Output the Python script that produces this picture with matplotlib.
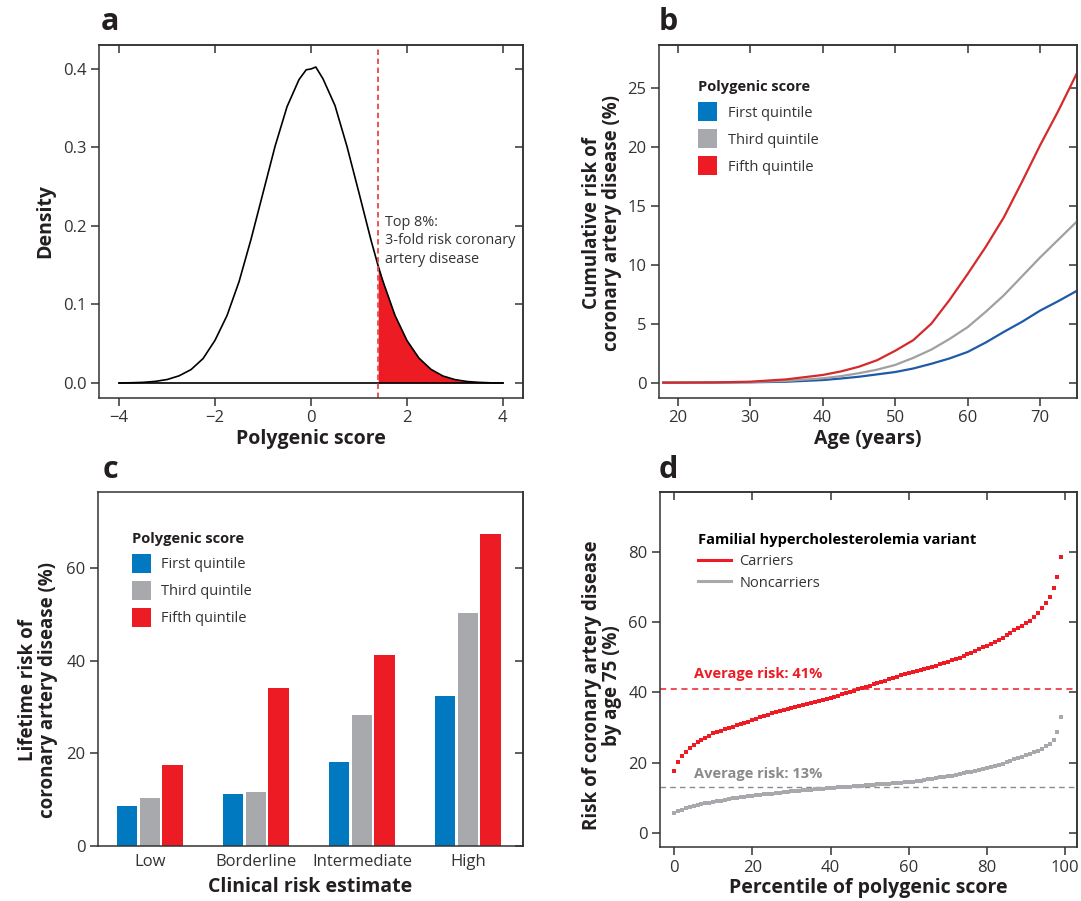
import numpy as np
import matplotlib
matplotlib.use("Agg")
import matplotlib.pyplot as plt
from matplotlib.patches import Patch
from matplotlib.lines import Line2D

plt.rcParams["font.family"] = ["Open Sans", "DejaVu Sans"]
plt.rcParams["axes.linewidth"] = 1.1

TXT = "#231f20"
RED = "#ed1c24"
BLUE = "#0079c1"
GRAY = "#a7a9ac"

# --- dati pannello a: densita' del punteggio poligenico ---
dens_x = [-4.0, -3.75, -3.5, -3.25, -3.0, -2.75, -2.5, -2.25, -2.0, -1.75, -1.5, -1.25,
          -1.0, -0.75, -0.5, -0.25, -0.1, 0.0, 0.1, 0.25, 0.5, 0.75, 1.0, 1.25, 1.4,
          1.5, 1.75, 2.0, 2.25, 2.5, 2.75, 3.0, 3.25, 3.5, 3.75, 4.0]
dens_y = [0.0001, 0.0004, 0.0009, 0.0021, 0.0045, 0.0092, 0.0172, 0.0312, 0.0545, 0.0860,
          0.1290, 0.1830, 0.2420, 0.3010, 0.3515, 0.3860, 0.3985, 0.3995, 0.4020, 0.3870,
          0.3530, 0.3010, 0.2420, 0.1820, 0.1490, 0.1295, 0.0862, 0.0542, 0.0318, 0.0175,
          0.0090, 0.0044, 0.0020, 0.0009, 0.0003, 0.0001]
soglia = 1.4

# --- dati pannello b: rischio cumulativo per eta' ---
eta = [18, 20, 25, 30, 35, 40, 42.5, 45, 47.5, 50, 52.5, 55, 57.5, 60, 62.5, 65, 67.5, 70, 72.5, 75]
rischio_q1 = [0, 0, 0.01, 0.03, 0.08, 0.22, 0.35, 0.5, 0.7, 0.9, 1.2, 1.6, 2.05, 2.6, 3.4, 4.3,
              5.15, 6.1, 6.9, 7.75]
rischio_q3 = [0, 0, 0.01, 0.05, 0.15, 0.37, 0.55, 0.8, 1.1, 1.5, 2.1, 2.8, 3.7, 4.7, 6.0, 7.4,
              9.0, 10.6, 12.1, 13.6]
rischio_q5 = [0, 0, 0.02, 0.08, 0.28, 0.65, 0.95, 1.35, 1.9, 2.7, 3.6, 5.0, 7.0, 9.2, 11.5, 14.0,
              17.0, 20.1, 23.0, 26.1]

# --- dati pannello c: rischio lifetime per stima clinica ---
categorie = ["Low", "Borderline", "Intermediate", "High"]
bar_q1 = [8.6, 11.2, 18.1, 32.4]
bar_q3 = [10.3, 11.6, 28.3, 50.3]
bar_q5 = [17.4, 34.1, 41.2, 67.3]
quintili = ["First quintile", "Third quintile", "Fifth quintile"]

# --- dati pannello d: rischio a 75 anni per percentile ---
percentili = np.arange(100)
carriers = [17.5, 20.3, 21.8, 22.9, 24.1, 25.0, 25.8, 26.5, 27.1, 27.7,
            28.3, 28.7, 29.1, 29.5, 29.9, 30.2, 30.6, 31.0, 31.3, 31.7,
            32.1, 32.5, 32.9, 33.3, 33.6, 34.0, 34.3, 34.7, 35.0, 35.3,
            35.6, 35.9, 36.1, 36.4, 36.7, 37.0, 37.3, 37.6, 37.9, 38.2,
            38.5, 38.7, 39.1, 39.4, 39.8, 40.1, 40.5, 40.9, 41.2, 41.6,
            41.9, 42.3, 42.6, 43.0, 43.3, 43.7, 44.0, 44.4, 44.8, 45.1,
            45.4, 45.7, 46.0, 46.3, 46.6, 46.9, 47.3, 47.6, 48.0, 48.4,
            48.7, 49.1, 49.5, 49.9, 50.3, 50.8, 51.3, 51.8, 52.3, 52.8,
            53.3, 53.8, 54.3, 54.9, 55.6, 56.3, 57.0, 57.7, 58.3, 58.9,
            59.6, 60.4, 61.5, 62.7, 63.9, 65.3, 67.2, 69.6, 72.7, 78.4]
noncarriers = [5.7, 6.2, 6.6, 7.0, 7.3, 7.6, 7.9, 8.1, 8.4, 8.6,
               8.8, 9.0, 9.2, 9.4, 9.6, 9.8, 9.9, 10.1, 10.2, 10.4,
               10.5, 10.7, 10.8, 11.0, 11.1, 11.2, 11.3, 11.5, 11.6, 11.7,
               11.8, 11.9, 12.0, 12.1, 12.2, 12.3, 12.4, 12.5, 12.6, 12.7,
               12.8, 12.9, 13.0, 13.0, 13.1, 13.2, 13.3, 13.3, 13.4, 13.5,
               13.6, 13.7, 13.8, 13.8, 13.9, 14.0, 14.1, 14.2, 14.3, 14.4,
               14.5, 14.6, 14.8, 14.9, 15.1, 15.3, 15.4, 15.6, 15.8, 15.9,
               16.1, 16.3, 16.5, 16.8, 17.0, 17.2, 17.4, 17.6, 17.8, 18.1,
               18.4, 18.7, 19.0, 19.3, 19.7, 20.1, 20.5, 20.9, 21.3, 21.7,
               22.1, 22.5, 22.9, 23.4, 23.9, 24.6, 25.3, 26.5, 28.6, 33.0]
media_carriers = 41
media_noncarriers = 13


def stile_assi(ax, xt=None, yt=None, top=True):
    # tick esterni a sinistra/sotto, interni sopra/destra
    for s in ax.spines.values():
        s.set_color("#333333")
    ax.tick_params(direction="out", length=6, width=1.1, color="#333333",
                   labelsize=12, labelcolor="#333333", pad=3)
    if top and xt is not None:
        sec = ax.secondary_xaxis("top")
        sec.set_xticks(xt)
        sec.tick_params(direction="in", length=6, width=1.1, color="#333333", labeltop=False)
        sec.spines["top"].set_color("#333333")
    if yt is not None:
        sec = ax.secondary_yaxis("right")
        sec.set_yticks(yt)
        sec.tick_params(direction="in", length=6, width=1.1, color="#333333", labelright=False)
        sec.spines["right"].set_color("#333333")


fig = plt.figure(figsize=(10.81, 9.01), dpi=100)
W, H = 1081, 901


def box(l, t, r, b):
    return [l / W, 1 - b / H, (r - l) / W, (b - t) / H]


ax_a = fig.add_axes(box(99, 45, 523, 398))
ax_b = fig.add_axes(box(659, 45, 1077, 398))
ax_c = fig.add_axes(box(98, 492, 523, 846))
ax_d = fig.add_axes(box(660, 492, 1077, 847))

lab_kw = dict(fontsize=14, fontweight="bold", color=TXT)
ylab_kw = dict(fontsize=13.5, fontweight="bold", color=TXT, linespacing=1.0)

# --- a ---
xa = np.array(dens_x)
ya = np.array(dens_y)
ax_a.fill_between(xa, ya, 0, where=xa >= soglia, color=RED, lw=0)
ax_a.plot(xa, ya, color="black", lw=1.2)
ax_a.plot([xa[0], xa[-1]], [0, 0], color="black", lw=1.2)
ax_a.axvline(soglia, color="#e8474b", lw=1.3, ls=(0, (3, 2)))
ax_a.text(1.55, 0.214, "Top 8%:\n3-fold risk coronary\nartery disease", fontsize=10.4,
          color="#333333", va="top", ha="left", linespacing=1.33)
ax_a.set_xlim(-4.42, 4.42)
ax_a.set_ylim(-0.019, 0.43)
ax_a.set_xticks([-4, -2, 0, 2, 4])
ax_a.set_yticks([0.0, 0.1, 0.2, 0.3, 0.4])
stile_assi(ax_a, [-4, -2, 0, 2, 4], [0.0, 0.1, 0.2, 0.3, 0.4])
ax_a.set_xlabel("Polygenic score", **lab_kw)
ax_a.set_ylabel("Density", **lab_kw)

# --- b ---
ax_b.plot(eta, rischio_q1, color="#1f5aa8", lw=1.6)
ax_b.plot(eta, rischio_q3, color="#a0a0a0", lw=1.6)
ax_b.plot(eta, rischio_q5, color="#d42a2c", lw=1.6)
ax_b.set_xlim(17.4, 75.1)
ax_b.set_ylim(-1.3, 28.6)
ax_b.set_xticks([20, 30, 40, 50, 60, 70])
ax_b.set_yticks([0, 5, 10, 15, 20, 25])
stile_assi(ax_b, [20, 30, 40, 50, 60, 70], [0, 5, 10, 15, 20, 25])
ax_b.set_xlabel("Age (years)", **lab_kw)
ax_b.set_ylabel("Cumulative risk of\ncoronary artery disease (%)", **ylab_kw)

# legenda quintili (b e c)
def legenda_quintili(ax, x, y):
    handles = [Patch(color=c, lw=0) for c in (BLUE, GRAY, RED)]
    leg = ax.legend(handles, quintili, loc="upper left", bbox_to_anchor=(x, y),
                    frameon=False, fontsize=10.5, title="Polygenic score",
                    title_fontproperties={"weight": "bold", "size": 10.5},
                    alignment="left", handlelength=1.3, handleheight=1.63,
                    handletextpad=0.75, labelspacing=0.55, borderpad=0, borderaxespad=0)
    for t in leg.get_texts():
        t.set_color("#333333")
    leg.get_title().set_color(TXT)


legenda_quintili(ax_b, 0.093, 0.90)

# --- c ---
xc = np.arange(len(categorie))
w = 0.19
passo = 0.213
ax_c.bar(xc - passo, bar_q1, w, color=BLUE)
ax_c.bar(xc, bar_q3, w, color=GRAY)
ax_c.bar(xc + passo, bar_q5, w, color=RED)
ax_c.set_xlim(-0.49, 3.52)
ax_c.set_ylim(0, 76.4)
ax_c.set_xticks(xc)
ax_c.set_xticklabels(categorie)
ax_c.set_yticks([0, 20, 40, 60])
stile_assi(ax_c, None, [0, 20, 40, 60], top=False)
ax_c.tick_params(axis="x", length=0, pad=6)
ax_c.set_xlabel("Clinical risk estimate", **lab_kw)
ax_c.set_ylabel("Lifetime risk of\ncoronary artery disease (%)", **ylab_kw)
legenda_quintili(ax_c, 0.079, 0.887)

# --- d ---
ax_d.axhline(media_carriers, color=RED, lw=1.1, ls=(0, (4, 3)))
ax_d.axhline(media_noncarriers, color="#8a8a8a", lw=1.0, ls=(0, (4, 3)))
ax_d.plot(percentili, noncarriers, "s", color=GRAY, ms=3.3, mew=0)
ax_d.plot(percentili, carriers, "s", color=RED, ms=3.3, mew=0)
ax_d.text(5.0, media_carriers + 4.3, "Average risk: %d%%" % media_carriers, color=RED,
          fontsize=10.5, fontweight="bold", va="center")
ax_d.text(5.0, media_noncarriers + 3.9, "Average risk: %d%%" % media_noncarriers, color="#8a8a8a",
          fontsize=10.5, fontweight="bold", va="center")
ax_d.set_xlim(-3.6, 103)
ax_d.set_ylim(-4, 97)
ax_d.set_xticks([0, 20, 40, 60, 80, 100])
ax_d.set_yticks([0, 20, 40, 60, 80])
stile_assi(ax_d, [0, 20, 40, 60, 80, 100], [0, 20, 40, 60, 80])
ax_d.set_xlabel("Percentile of polygenic score", **lab_kw)
ax_d.set_ylabel("Risk of coronary artery disease\nby age 75 (%)", **ylab_kw)
leg = ax_d.legend([Line2D([], [], color=RED, lw=2.2), Line2D([], [], color=GRAY, lw=2.2)],
                  ["Carriers", "Noncarriers"], loc="upper left", bbox_to_anchor=(0.091, 0.885),
                  frameon=False, fontsize=10.5, title="Familial hypercholesterolemia variant",
                  title_fontproperties={"weight": "bold", "size": 10.5}, alignment="left",
                  handlelength=2.3, handletextpad=0.55, labelspacing=0.47, borderpad=0,
                  borderaxespad=0)
for t in leg.get_texts():
    t.set_color("#333333")

# posizioni delle etichette degli assi
for ax, xr, yc in ((ax_a, -0.104, 0.5), (ax_b, -0.089, 0.497), (ax_c, -0.094, 0.44),
                   (ax_d, -0.091, 0.455)):
    ax.yaxis.set_label_coords(xr, yc)
for ax in (ax_a, ax_b, ax_c, ax_d):
    ax.xaxis.set_label_coords(0.5, -0.088)

# lettere dei pannelli
for lett, x, y in (("a", 110, 22), ("b", 668, 22), ("c", 110, 470), ("d", 668, 470)):
    fig.text(x / W, 1 - y / H, lett, fontsize=22, fontweight="bold", color=TXT,
             ha="center", va="center")

fig.savefig("out.png", dpi=100)
